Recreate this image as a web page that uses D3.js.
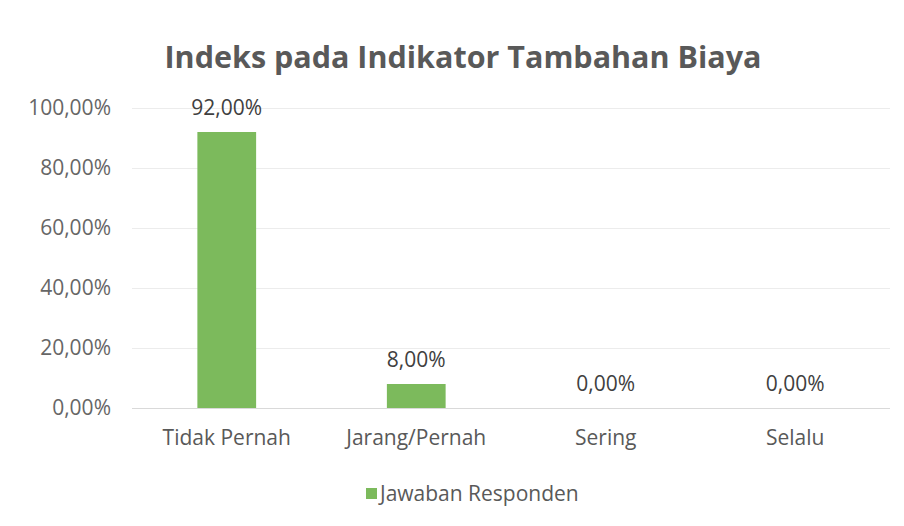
<!DOCTYPE html>
<html>
<head>
<meta charset="utf-8">
<script src="https://cdn.jsdelivr.net/npm/d3@7"></script>
<style>
  body { margin: 0; background: #fff; }
  text { font-family: "Open Sans", sans-serif; }
</style>
</head>
<body>
<script>
var categories = ['Tidak Pernah', 'Jarang/Pernah', 'Sering', 'Selalu'];
var values = [0.92, 0.08, 0, 0];
var yTicks = [0, 0.2, 0.4, 0.6, 0.8, 1.0];
var seriesName = 'Jawaban Responden';
var chartTitle = 'Indeks pada Indikator Tambahan Biaya';

var W = 904, H = 526;
var plotLeft = 132, plotRight = 890, plotTop = 108, plotBottom = 408;

var svg = d3.select('body').append('svg').attr('width', W).attr('height', H);

var fmt = function(v) { return (v * 100).toFixed(2).replace('.', ',') + '%'; };

var x = d3.scaleBand().domain(categories).range([plotLeft, plotRight]).paddingInner(0.69).paddingOuter(0.345);
var y = d3.scaleLinear().domain([0, 1]).range([plotBottom, plotTop]);

/* title */
svg.append('text').attr('x', 463).attr('y', 68).attr('text-anchor', 'middle')
  .style('font-size', '30.5px').style('font-weight', 'bold').style('fill', '#595959')
  .text(chartTitle);

/* grid lines */
svg.append('g').selectAll('line').data(yTicks).enter().append('line')
  .attr('x1', plotLeft).attr('x2', plotRight)
  .attr('y1', function(d) { return y(d) + 0.5; }).attr('y2', function(d) { return y(d) + 0.5; })
  .style('stroke', function(d) { return d === 0 ? '#d9d9d9' : '#ececec'; });

/* y axis labels */
var yAxis = d3.axisLeft(y).tickValues(yTicks).tickFormat(fmt).tickSize(0).tickPadding(0);
var gy = svg.append('g').attr('transform', 'translate(111,0)').call(yAxis);
gy.select('.domain').remove();
gy.selectAll('text').style('font-size', '21px').style('fill', '#666').style('font-family', '"Open Sans", sans-serif');

/* bars */
svg.append('g').selectAll('rect').data(values).enter().append('rect')
  .attr('x', function(d, i) { return x(categories[i]); })
  .attr('y', function(d) { return y(d); })
  .attr('width', x.bandwidth())
  .attr('height', function(d) { return plotBottom - y(d); })
  .style('fill', '#7cba5c');

/* data labels */
svg.append('g').selectAll('text').data(values).enter().append('text')
  .attr('x', function(d, i) { return x(categories[i]) + x.bandwidth() / 2; })
  .attr('y', function(d) { return y(d) - 17; })
  .attr('text-anchor', 'middle')
  .style('font-size', '21px').style('fill', '#404040')
  .text(fmt);

/* x axis labels */
var xAxis = d3.axisBottom(x).tickSize(0).tickPadding(0);
var gx = svg.append('g').attr('transform', 'translate(0,' + 430 + ')').call(xAxis);
gx.select('.domain').remove();
gx.selectAll('text').style('font-size', '21px').style('fill', '#595959').style('font-family', '"Open Sans", sans-serif');

/* legend */
var lg = svg.append('g').attr('transform', 'translate(366,488)');
lg.append('rect').attr('x', 0).attr('y', 0).attr('width', 11).attr('height', 11).style('fill', '#7cba5c');
lg.append('text').attr('x', 14).attr('y', 13).style('font-size', '21px').style('fill', '#595959').text(seriesName);
</script>
</body>
</html>
